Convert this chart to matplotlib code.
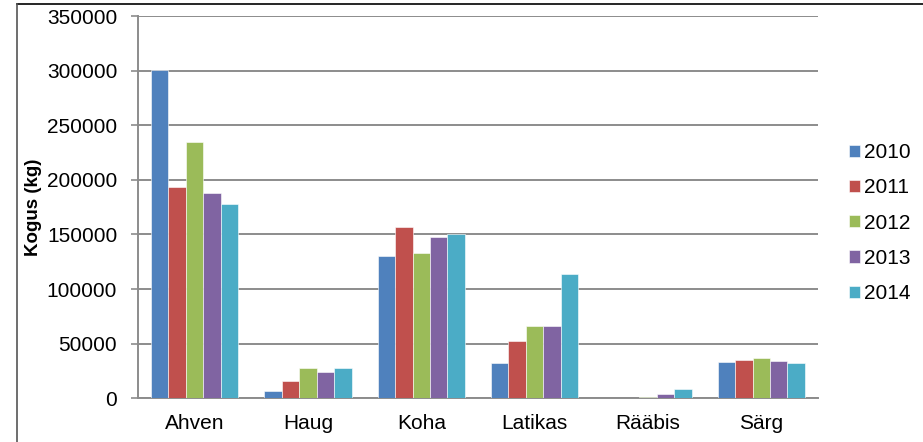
import matplotlib.pyplot as plt
import numpy as np
from matplotlib.lines import Line2D

plt.rcParams['font.family'] = ['Liberation Sans', 'DejaVu Sans']

species = ['Ahven', 'Haug', 'Koha', 'Latikas', 'Rääbis', 'Särg']
years = ['2010', '2011', '2012', '2013', '2014']
colors = ['#4F81BD', '#C0504D', '#9BBB59', '#8064A2', '#4BACC6']

y2010 = [300500, 6400, 130700, 32300, 0, 33200]
y2011 = [193500, 15500, 157200, 52400, 0, 35300]
y2012 = [234600, 27700, 132800, 66400, 900, 36500]
y2013 = [188000, 24000, 148000, 66400, 3600, 34100]
y2014 = [178000, 27700, 150100, 113900, 8500, 32300]
series = [y2010, y2011, y2012, y2013, y2014]

fig = plt.figure(figsize=(9.23, 4.42), dpi=100)
ax = fig.add_axes([0.1495, 0.0989, 0.7367, 0.8649])

x = np.arange(len(species))
w = 0.154
for i, vals in enumerate(series):
    ax.bar(x + (i - 2) * w, vals, width=w, color=colors[i], label=years[i],
           edgecolor='white', linewidth=0.4, zorder=3)

ax.set_xlim(-0.5, len(species) - 0.5)
ax.set_ylim(0, 350000)
ax.set_yticks(range(0, 350001, 50000))
ax.set_yticklabels([str(v) for v in range(0, 350001, 50000)], fontsize=15)
ax.set_xticks(x)
ax.set_xticklabels(species, fontsize=15)
ax.yaxis.grid(True, color='#8C8C8C', linewidth=1.4, zorder=0)

for s in ['top', 'right']:
    ax.spines[s].set_visible(False)
for s in ['left', 'bottom']:
    ax.spines[s].set_color('#8C8C8C')
    ax.spines[s].set_linewidth(1.4)
ax.tick_params(axis='y', color='#8C8C8C', length=5, width=1.2, pad=10)
ax.tick_params(axis='x', length=0, pad=11)
ax.set_ylabel('Kogus (kg)', fontsize=13.5, fontweight='bold')
ax.yaxis.set_label_coords(-0.141, 0.5)

ax.legend(loc='center left', bbox_to_anchor=(1.0456, 0.458), frameon=False,
          fontsize=15, handlelength=0.52, handleheight=0.52, handletextpad=0.2,
          labelspacing=0.78, borderaxespad=0, borderpad=0)

# chart frame
fig.add_artist(Line2D([0.0185, 1.0], [0.991, 0.991], color='black', linewidth=1.2))
fig.add_artist(Line2D([0.0185, 0.0185], [0.0, 0.991], color='#555555', linewidth=1.2))

fig.savefig('out.png', dpi=100)
plt.close()
